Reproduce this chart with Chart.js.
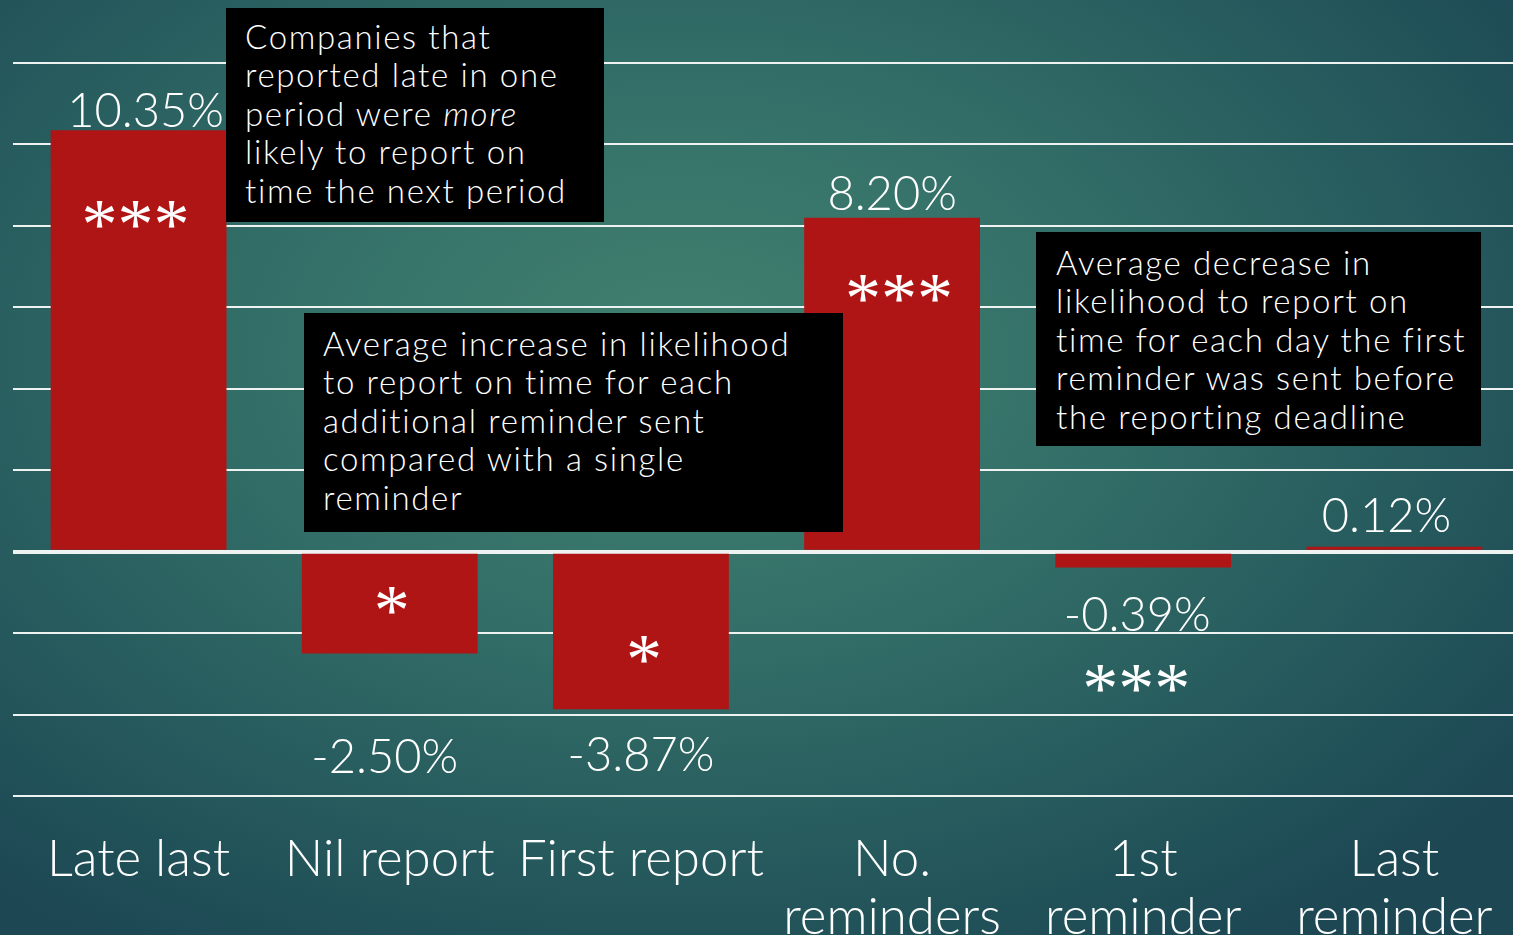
<!DOCTYPE html>
<html>
<head>
<meta charset="utf-8">
<script src="https://cdn.jsdelivr.net/npm/chart.js@4/dist/chart.umd.min.js"></script>
<style>
  html, body { margin: 0; padding: 0; width: 1513px; height: 935px; overflow: hidden; }
  body { background: radial-gradient(ellipse 70% 75% at 45% 38%, #42816f 0%, #336f68 40%, #25585c 75%, #1c4753 100%); font-family: "Lato", sans-serif; position: relative; }
  #wrap { position: absolute; left: 0; top: 0; width: 1521px; height: 935px; }
  .note { position: absolute; background: #000; color: #fff; font-family: "Lato", sans-serif; font-weight: 300; font-size: 33px; line-height: 38.4px; letter-spacing: 1.65px; box-sizing: border-box; white-space: nowrap; }
</style>
</head>
<body>
<div id="wrap"><canvas id="chart"></canvas></div>

<div class="note" style="left:226px; top:8px; width:378px; height:214px; padding:9px 0 0 19px;">Companies that<br>reported late in one<br>period were <i>more</i><br>likely to report on<br>time the next period</div>
<div class="note" style="left:304px; top:313px; width:539px; height:219px; padding:11px 0 0 19px;">Average increase in likelihood<br>to report on time for each<br>additional reminder sent<br>compared with a single<br>reminder</div>
<div class="note" style="left:1036px; top:232px; width:445px; height:214px; padding:11px 0 0 20px;">Average decrease in<br>likelihood to report on<br>time for each day the first<br>reminder was sent before<br>the reporting deadline</div>

<script>
// categories, values (percentage points) and significance stars
const categories = ["Late last", "Nil report", "First report", ["No.", "reminders"], ["1st", "reminder"], ["Last", "reminder"]];
const effects = [10.35, -2.50, -3.87, 8.20, -0.39, 0.12];
const stars = ["***", "*", "*", "***", "***", ""];
const yMin = -6, yMax = 12, yStep = 2;

const barRed = "#b01515";
const lineWhite = "#eef3f2";

// value labels + stars drawn on top of the bars
const barText = {
    id: "barText",
    afterDatasetsDraw(chart) {
        const ctx = chart.ctx;
        const bars = chart.getDatasetMeta(0).data;
        // per-bar nudges to follow the hand placed labels of the original
        const valueGap = [3, 120, 62, 8, 63, 15];
        const valueDx = [7, -5, 0, 0, -6, -8];
        const starDy = [118, -19, -26, 104, 144, 0];
        const starDx = [-3, 2, 3, 7, -7, 0];
        ctx.save();
        ctx.fillStyle = "#fff";
        ctx.textAlign = "center";
        ctx.textBaseline = "alphabetic";
        bars.forEach((bar, i) => {
            const v = effects[i];
            ctx.font = "300 47px Lato, sans-serif";
            const y = v >= 0 ? bar.y - valueGap[i] : bar.y + valueGap[i];
            ctx.fillText(v.toFixed(2) + "%", bar.x + valueDx[i], y);
            if (stars[i]) {
                ctx.font = "72px 'Liberation Serif', serif";
                ctx.fillText(stars[i], bar.x + starDx[i], bar.y + starDy[i]);
            }
        });
        ctx.restore();
    }
};

new Chart(document.getElementById("chart"), {
    type: "bar",
    data: {
        labels: categories,
        datasets: [{ data: effects, backgroundColor: barRed, borderWidth: 0, categoryPercentage: 1, barPercentage: 0.7 }]
    },
    options: {
        responsive: true,
        maintainAspectRatio: false,
        animation: false,
        layout: { padding: { top: 63, left: 13, right: 1, bottom: 0 } },
        plugins: { legend: { display: false }, tooltip: { enabled: false } },
        scales: {
            x: {
                grid: { display: false },
                border: { display: false },
                ticks: { color: "#fff", font: { family: "Lato", size: 51, weight: 300, lineHeight: 1.15 }, padding: 26, maxRotation: 0, autoSkip: false },
                afterFit: s => { s.height = 139; }
            },
            y: {
                min: yMin, max: yMax,
                border: { display: false },
                grid: { color: lineWhite, lineWidth: c => c.tick && c.tick.value === 0 ? 4 : 2, drawTicks: false },
                ticks: { display: false, stepSize: yStep },
                afterFit: s => { s.width = 0; }
            }
        }
    },
    plugins: [barText]
});
</script>
</body>
</html>
